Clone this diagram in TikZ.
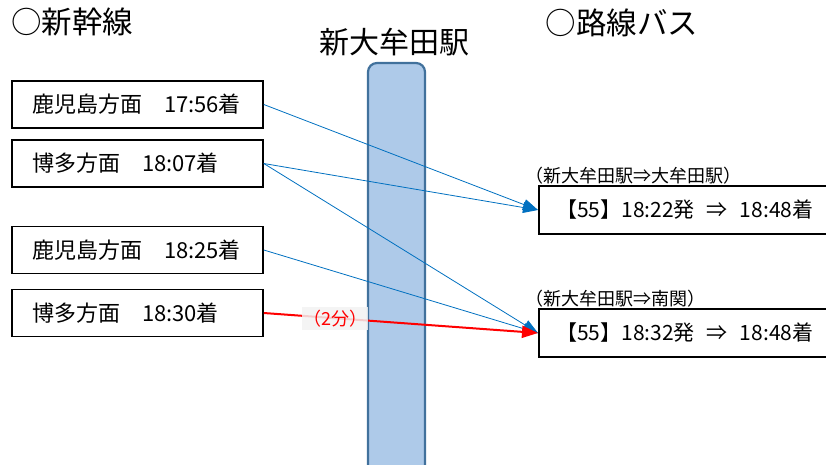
\documentclass[tikz,border=0pt]{standalone}
\usepackage{fontspec}
\setmainfont{Noto Sans CJK JP}
\usetikzlibrary{arrows.meta}
\definecolor{barfill}{RGB}{174,202,233}
\definecolor{barline}{RGB}{65,113,156}
\definecolor{linkblue}{RGB}{0,112,192}
\begin{document}
\begin{tikzpicture}[x=1pt, y=-1pt,
	trainbox/.style={draw=black, line width=1.6pt, text width=211pt, align=left, inner xsep=20pt, inner ysep=0pt, minimum height=47pt, font=\fontsize{22}{26}\selectfont},
	busbox/.style={draw=black, line width=1.6pt, minimum width=292pt, minimum height=48pt, inner sep=0pt, anchor=west, font=\fontsize{21}{25}\selectfont},
	heading/.style={font=\fontsize{30.5}{35}\selectfont},
	route/.style={font=\fontsize{18}{21}\selectfont, anchor=south west, inner sep=1pt},
	link/.style={linkblue, line width=0.8pt, -{Triangle[length=15pt, width=11pt]}},
	transfer/.style={red, line width=2pt, -{Triangle[length=16pt, width=12pt]}}]
	\clip (0,0) rectangle (826,464);

	% station bar
	\draw[barline, fill=barfill, line width=2.2pt, rounded corners=9pt] (368,63) rectangle (425,476);

	\node[heading] (shinkansen) at (72,22) {○新幹線};
	\node[heading, font=\fontsize{30}{35}\selectfont] (station) at (394,42) {新大牟田駅};
	\node[heading] (bus) at (622,23) {○路線バス};

	% arrivals
	\node[trainbox] (arr1) at (137.5,104.5) {鹿児島方面　17:56着};
	\node[trainbox] (arr2) at (137.5,163.5) {博多方面　18:07着};
	\node[trainbox] (arr3) at (137.5,250) {鹿児島方面　18:25着};
	\node[trainbox] (arr4) at (137.5,313) {博多方面　18:30着};

	% departures
	\node[busbox] (depA) at (538,210) {【55】18:22発\hspace{12pt}⇒\hspace{12pt}18:48着};
	\node[busbox] (depB) at (538,333) {【55】18:32発\hspace{12pt}⇒\hspace{12pt}18:48着};
	\node[route] (routeA) at (depA.north west) [xshift=-14pt] {（新大牟田駅⇒大牟田駅）};
	\node[route] (routeB) at (depB.north west) [xshift=-14pt] {（新大牟田駅⇒南関）};

	% connections
	\draw[link] (arr1.east) -- (depA.west);
	\draw[link] (arr2.east) -- (depA.west);
	\draw[link] (arr2.east) -- (depB.west);
	\draw[link] (arr3.east) -- (depB.west);
	\draw[transfer] (arr4.east) -- node[pos=0.26, fill=gray!10, fill opacity=0.85, text opacity=1, text=red, font=\fontsize{18}{21}\selectfont, inner xsep=1pt, inner ysep=3pt] (wait) {（2分）} (depB.west);
\end{tikzpicture}
\end{document}
